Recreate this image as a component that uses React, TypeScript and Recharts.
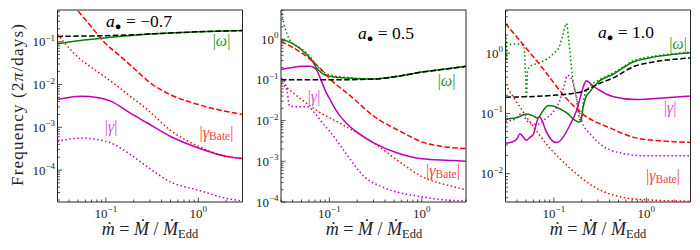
import React from 'react';
import { LineChart, Line, XAxis, YAxis, ReferenceArea } from 'recharts';

const FONT = "'Liberation Serif', 'DejaVu Serif', serif";
const GREEN = '#008000';
const MAGENTA = '#bf00bf';
const RED = '#ff0000';
const BLACK = '#000000';
const DASH = '5.5 2.4';
const DOT = '1.5 2.5';

const X_DOMAIN: [number, number] = [0.03, 3];

// ---- panel 1 : a = -0.7 ----
const p1Y: [number, number] = [1.8e-5, 0.55];
const p1BlackX = [0.03, 0.05, 0.1, 0.2, 0.5, 1, 2, 3];
const p1BlackY = [0.133, 0.135, 0.138, 0.145, 0.16, 0.17, 0.178, 0.182];
const p1GreenX = [0.03, 0.05, 0.08, 0.12, 0.2, 0.3, 0.5, 1, 2, 3];
const p1GreenY = [0.09, 0.105, 0.117, 0.128, 0.142, 0.152, 0.16, 0.17, 0.178, 0.182];
const p1RedDashX = [0.03, 0.049, 0.07, 0.095, 0.15, 0.2, 0.32, 0.5, 1, 2, 3];
const p1RedDashY = [1.9, 0.55, 0.22, 0.1, 0.042, 0.024, 0.01, 5.8e-3, 3.4e-3, 2.35e-3, 2.0e-3];
const p1RedDotX = [0.03, 0.035, 0.049, 0.07, 0.113, 0.18, 0.28, 0.5, 1, 2, 3];
const p1RedDotY = [0.15, 0.1, 0.045, 0.025, 0.012, 5.5e-3, 2.6e-3, 8.5e-4, 3.6e-4, 2.1e-4, 1.9e-4];
const p1MagX = [0.03, 0.04, 0.055, 0.08, 0.113, 0.18, 0.28, 0.5, 1, 2, 3];
const p1MagY = [4.5e-3, 5.0e-3, 5.3e-3, 5.0e-3, 4.1e-3, 2.2e-3, 1.26e-3, 6.1e-4, 3.3e-4, 2.1e-4, 1.85e-4];
const p1MagDotX = [0.03, 0.04, 0.055, 0.08, 0.113, 0.18, 0.28, 0.5, 1, 2, 3];
const p1MagDotY = [4.7e-4, 5.3e-4, 5.6e-4, 5.2e-4, 4.3e-4, 2.4e-4, 1.2e-4, 5.3e-5, 3.4e-5, 2.2e-5, 1.9e-5];

// ---- panel 2 : a = 0.5 ----
const p2Y: [number, number] = [1e-4, 5.2];
const p2BlackX = [0.03, 0.06, 0.1, 0.2, 0.35, 0.6, 1, 2, 3];
const p2BlackY = [0.1, 0.1, 0.1, 0.102, 0.107, 0.127, 0.155, 0.19, 0.215];
const p2GreenX = [0.03, 0.039, 0.05, 0.064, 0.075, 0.088, 0.113, 0.17, 0.25, 0.35, 0.6, 1, 2, 3];
const p2GreenY = [0.98, 0.81, 0.55, 0.31, 0.18, 0.135, 0.118, 0.11, 0.105, 0.107, 0.127, 0.155, 0.19, 0.215];
const p2GreenDotX = [0.03, 0.032, 0.035, 0.0387, 0.05, 0.064, 0.075, 0.088, 0.113, 0.17, 0.25, 0.35, 0.6, 1, 2, 3];
const p2GreenDotY = [5.5, 2.6, 1.3, 0.85, 0.58, 0.34, 0.21, 0.15, 0.125, 0.113, 0.106, 0.108, 0.128, 0.155, 0.19, 0.215];
const p2RedDashX = [0.03, 0.05, 0.075, 0.104, 0.17, 0.305, 0.6, 1, 2, 3];
const p2RedDashY = [0.88, 0.46, 0.22, 0.1, 0.04, 0.0126, 5.3e-3, 3.0e-3, 2.2e-3, 2.05e-3];
const p2RedDotX = [0.03, 0.05, 0.075, 0.134, 0.305, 0.6, 1, 2, 3];
const p2RedDotY = [0.085, 0.033, 0.017, 8.3e-3, 2.8e-3, 9e-4, 4.2e-4, 2.5e-4, 2.0e-4];
const p2MagX = [0.03, 0.04, 0.05, 0.062, 0.072, 0.081, 0.092, 0.104, 0.113, 0.134, 0.16, 0.22, 0.305, 0.545, 1, 2, 3];
const p2MagY = [0.18, 0.2, 0.215, 0.215, 0.18, 0.1, 0.05, 0.03, 0.021, 0.012, 7.8e-3, 4.4e-3, 2.8e-3, 1.6e-3, 1.15e-3, 1.05e-3, 1.0e-3];
const p2MagDotX = [0.03, 0.032, 0.035, 0.037, 0.045, 0.058, 0.07, 0.085, 0.104, 0.15, 0.238, 0.4, 1, 2, 3];
const p2MagDotY = [0.11, 0.1, 0.05, 0.023, 0.022, 0.022, 0.015, 8.5e-3, 5e-3, 1.6e-3, 4.2e-4, 2.2e-4, 1.35e-4, 1.1e-4, 1.07e-4];

// ---- panel 3 : a = 1.0 ----
const p3Y: [number, number] = [3.4e-3, 5.2];
const p3BlackX = [0.03, 0.1, 0.2, 0.32, 0.44, 0.73, 1.1, 1.95, 3];
const p3BlackY = [0.186, 0.2, 0.23, 0.32, 0.39, 0.6, 0.7, 0.79, 0.83];
const p3GreenX = [0.03, 0.036, 0.042, 0.05, 0.058, 0.067, 0.076, 0.087, 0.1, 0.118, 0.14, 0.164, 0.185, 0.196, 0.206, 0.22, 0.245, 0.3, 0.44, 0.73, 1.1, 2, 3];
const p3GreenY = [0.082, 0.083, 0.088, 0.098, 0.093, 0.084, 0.11, 0.135, 0.132, 0.118, 0.1, 0.08, 0.072, 0.075, 0.12, 0.18, 0.23, 0.33, 0.45, 0.72, 0.84, 0.96, 1.02];
const p3GreenDotX = [0.03, 0.0303, 0.0307, 0.0312, 0.033, 0.04, 0.047, 0.049, 0.0505, 0.052, 0.055, 0.069, 0.088, 0.1, 0.113, 0.125, 0.137, 0.145, 0.158, 0.175, 0.19, 0.196, 0.205, 0.215, 0.25, 0.32, 0.46, 0.73, 1.1, 2, 3];
const p3GreenDotY = [0.7, 1.9, 0.75, 1.5, 1.4, 1.42, 1.35, 0.6, 0.18, 0.5, 0.6, 0.69, 0.84, 1.0, 1.22, 2.0, 3.1, 1.6, 0.44, 0.18, 0.08, 0.075, 0.13, 0.2, 0.29, 0.37, 0.49, 0.75, 0.87, 0.98, 1.04];
const p3RedDashX = [0.03, 0.078, 0.14, 0.21, 0.41, 0.79, 1.5, 3];
const p3RedDashY = [3.1, 0.53, 0.17, 0.095, 0.057, 0.039, 0.035, 0.033];
const p3RedDotX = [0.03, 0.052, 0.088, 0.15, 0.27, 0.61, 1, 3];
const p3RedDotY = [0.3, 0.083, 0.028, 0.0123, 6.1e-3, 3.96e-3, 3.7e-3, 3.5e-3];
const p3MagX = [0.03, 0.036, 0.04, 0.043, 0.047, 0.05, 0.055, 0.06, 0.065, 0.069, 0.075, 0.081, 0.09, 0.1, 0.109, 0.125, 0.15, 0.175, 0.194, 0.21, 0.225, 0.25, 0.3, 0.44, 0.79, 1.5, 3];
const p3MagY = [0.032, 0.034, 0.038, 0.046, 0.04, 0.036, 0.04, 0.045, 0.07, 0.088, 0.075, 0.054, 0.04, 0.034, 0.033, 0.04, 0.065, 0.11, 0.19, 0.29, 0.35, 0.31, 0.25, 0.19, 0.17, 0.18, 0.195];
const p3MagDotX = [0.03, 0.038, 0.045, 0.05, 0.055, 0.062, 0.069, 0.08, 0.1, 0.115, 0.13, 0.14, 0.155, 0.17, 0.2, 0.25, 0.31, 0.53, 1, 3];
const p3MagDotY = [0.074, 0.08, 0.1, 0.08, 0.068, 0.066, 0.067, 0.08, 0.11, 0.16, 0.3, 0.43, 0.38, 0.23, 0.075, 0.045, 0.032, 0.022, 0.0198, 0.0198];

const spinValues = ['\u22120.7', '0.5', '1.0'];

type Series = { xs: number[]; ys: number[]; color: string; dash?: string };

const toPts = (xs: number[], ys: number[]) => xs.map((x, i) => ({ x, y: ys[i] }));

const isMajor = (v: number) => Math.abs(Math.log10(v) - Math.round(Math.log10(v))) < 1e-6;
const expLabel = (v: number) => {
  const e = Math.round(Math.log10(v));
  return e < 0 ? `\u2212${-e}` : `${e}`;
};

// major + minor log ticks inside [lo, hi]
const logTicks = (lo: number, hi: number) => {
  const out: number[] = [];
  for (let e = -6; e <= 1; e++) {
    for (let m = 1; m < 10; m++) {
      const v = m * Math.pow(10, e);
      if (v >= lo * 0.999 && v <= hi * 1.001) out.push(v);
    }
  }
  return out;
};

const AXIS = '#262626';

function XTick(props: any) {
  const { x, y, payload } = props;
  const v = payload.value;
  const major = isMajor(v);
  return (
    <g>
      <line x1={x} x2={x} y1={y} y2={y - (major ? 4.5 : 2.5)} stroke={AXIS} strokeWidth={0.8} />
      {major && (
        <text x={x} y={y + 15.5} textAnchor="middle" fontFamily={FONT} fontSize={13} fill="#222">
          <tspan>10</tspan>
          <tspan dy={-5.5} fontSize={9}>{expLabel(v)}</tspan>
        </text>
      )}
    </g>
  );
}

function YTick(props: any) {
  const { x, y, payload } = props;
  const v = payload.value;
  const major = isMajor(v);
  return (
    <g>
      <line x1={x} x2={x + (major ? 4.5 : 2.5)} y1={y} y2={y} stroke={AXIS} strokeWidth={0.8} />
      {major && (
        <text x={x - 2.5} y={y + 4.5} textAnchor="end" fontFamily={FONT} fontSize={13} fill="#222">
          <tspan>10</tspan>
          <tspan dy={-5.5} fontSize={9}>{expLabel(v)}</tspan>
        </text>
      )}
    </g>
  );
}

type PanelProps = {
  left: number;
  width: number;
  yWidth: number;
  ml: number;
  mr: number;
  yDomain: [number, number];
  series: Series[];
};

function Panel({ left, width, yWidth, ml, mr, yDomain, series }: PanelProps) {
  return (
    <div style={{ position: 'absolute', left, top: 0 }}>
      <LineChart width={width} height={250} margin={{ top: 10, right: mr, bottom: 8, left: ml }}>
        <XAxis
          type="number"
          dataKey="x"
          scale="log"
          domain={X_DOMAIN}
          allowDataOverflow
          ticks={logTicks(X_DOMAIN[0], X_DOMAIN[1])}
          interval={0}
          tick={<XTick />}
          tickLine={false}
          axisLine={false}
          tickSize={0}
          tickMargin={0}
          height={40}
        />
        <YAxis
          type="number"
          dataKey="y"
          scale="log"
          domain={yDomain}
          allowDataOverflow
          ticks={logTicks(yDomain[0], yDomain[1])}
          interval={0}
          tick={<YTick />}
          tickLine={false}
          axisLine={false}
          tickSize={0}
          tickMargin={0}
          width={yWidth}
        />
        {series.map((s, i) => (
          <Line
            key={i}
            data={toPts(s.xs, s.ys)}
            dataKey="y"
            type="monotone"
            stroke={s.color}
            strokeWidth={1.5}
            strokeDasharray={s.dash}
            dot={false}
            activeDot={false}
            isAnimationActive={false}
          />
        ))}
        <ReferenceArea
          x1={X_DOMAIN[0]}
          x2={X_DOMAIN[1]}
          y1={yDomain[0]}
          y2={yDomain[1]}
          fill="none"
          stroke={AXIS}
          strokeWidth={1}
          ifOverflow="visible"
        />
      </LineChart>
    </div>
  );
}

const p1Series: Series[] = [
  { xs: p1GreenX, ys: p1GreenY, color: GREEN },
  { xs: p1MagX, ys: p1MagY, color: MAGENTA },
  { xs: p1MagDotX, ys: p1MagDotY, color: MAGENTA, dash: DOT },
  { xs: p1RedDashX, ys: p1RedDashY, color: RED, dash: DASH },
  { xs: p1RedDotX, ys: p1RedDotY, color: RED, dash: DOT },
  { xs: p1BlackX, ys: p1BlackY, color: BLACK, dash: DASH },
];
const p2Series: Series[] = [
  { xs: p2GreenX, ys: p2GreenY, color: GREEN },
  { xs: p2GreenDotX, ys: p2GreenDotY, color: GREEN, dash: DOT },
  { xs: p2MagX, ys: p2MagY, color: MAGENTA },
  { xs: p2MagDotX, ys: p2MagDotY, color: MAGENTA, dash: DOT },
  { xs: p2RedDashX, ys: p2RedDashY, color: RED, dash: DASH },
  { xs: p2RedDotX, ys: p2RedDotY, color: RED, dash: DOT },
  { xs: p2BlackX, ys: p2BlackY, color: BLACK, dash: DASH },
];
const p3Series: Series[] = [
  { xs: p3GreenX, ys: p3GreenY, color: GREEN },
  { xs: p3GreenDotX, ys: p3GreenDotY, color: GREEN, dash: DOT },
  { xs: p3MagX, ys: p3MagY, color: MAGENTA },
  { xs: p3MagDotX, ys: p3MagDotY, color: MAGENTA, dash: DOT },
  { xs: p3RedDashX, ys: p3RedDashY, color: RED, dash: DASH },
  { xs: p3RedDotX, ys: p3RedDotY, color: RED, dash: DOT },
  { xs: p3BlackX, ys: p3BlackY, color: BLACK, dash: DASH },
];

function SpinLabel({ x, y, value }: { x: number; y: number; value: string }) {
  return (
    <text x={x} y={y} textAnchor="middle" fontFamily={FONT} fontSize={17.5} fill="#000">
      <tspan fontStyle="italic">a</tspan>
      <tspan fontSize={11} dy={3}>{'\u25CF'}</tspan>
      <tspan dy={-3}>{' = ' + value}</tspan>
    </text>
  );
}

function XLabel({ x }: { x: number }) {
  return (
    <text x={x} y={235} textAnchor="middle" fontFamily={FONT} fontSize={18} fill="#222">
      <tspan fontStyle="italic">{'\u1E41'}</tspan>
      <tspan>{' = '}</tspan>
      <tspan fontStyle="italic">{'\u1E40'}</tspan>
      <tspan>{' / '}</tspan>
      <tspan fontStyle="italic">{'\u1E40'}</tspan>
      <tspan fontSize={12.5} dy={3}>Edd</tspan>
    </text>
  );
}

function Omega({ x, y }: { x: number; y: number }) {
  return (
    <text x={x} y={y} textAnchor="middle" fontFamily={FONT} fontSize={16} fill="#2b952b">
      |<tspan fontStyle="italic">{'\u03C9'}</tspan>|
    </text>
  );
}
function Gamma({ x, y }: { x: number; y: number }) {
  return (
    <text x={x} y={y} textAnchor="middle" fontFamily={FONT} fontSize={16} fill="#cf55cf">
      |<tspan fontStyle="italic">{'\u03B3'}</tspan>|
    </text>
  );
}
function GammaBate({ x, y }: { x: number; y: number }) {
  return (
    <text x={x} y={y} textAnchor="middle" fontFamily={FONT} fontSize={16} fill="#ff4040">
      |<tspan fontStyle="italic">{'\u03B3'}</tspan>
      <tspan fontSize={11.5} dy={2}>Bate</tspan>
      <tspan dy={-2}>|</tspan>
    </text>
  );
}

export default function App() {
  return (
    <div style={{ position: 'absolute', left: 0, top: 0, width: 700, height: 250, background: '#fff', overflow: 'hidden' }}>
      <Panel left={0} width={250} yWidth={50} ml={7.5} mr={7.5} yDomain={p1Y} series={p1Series} />
      <Panel left={245} width={230} yWidth={30} ml={6} mr={9} yDomain={p2Y} series={p2Series} />
      <Panel left={470} width={230} yWidth={30} ml={5.5} mr={9.5} yDomain={p3Y} series={p3Series} />
      <svg width={700} height={250} style={{ position: 'absolute', left: 0, top: 0, pointerEvents: 'none' }}>
        <text
          transform="translate(23,105) rotate(-90)"
          textAnchor="middle"
          fontFamily={FONT}
          fontSize={17}
          fill="#222"
          textLength={162}
          lengthAdjust="spacing"
        >
          Frequency (2<tspan fontStyle="italic">{'\u03C0'}</tspan>/days)
        </text>
        <SpinLabel x={139} y={27} value={spinValues[0]} />
        <SpinLabel x={386} y={39} value={spinValues[1]} />
        <SpinLabel x={626} y={37.5} value={spinValues[2]} />
        <XLabel x={150} />
        <XLabel x={374} />
        <XLabel x={598} />
        <Omega x={221.5} y={46} />
        <Gamma x={111} y={132} />
        <GammaBate x={216.5} y={138} />
        <Omega x={446.5} y={86} />
        <Gamma x={314} y={102} />
        <GammaBate x={443} y={176} />
        <Omega x={678} y={49} />
        <Gamma x={670} y={113} />
        <GammaBate x={663} y={181} />
      </svg>
    </div>
  );
}
